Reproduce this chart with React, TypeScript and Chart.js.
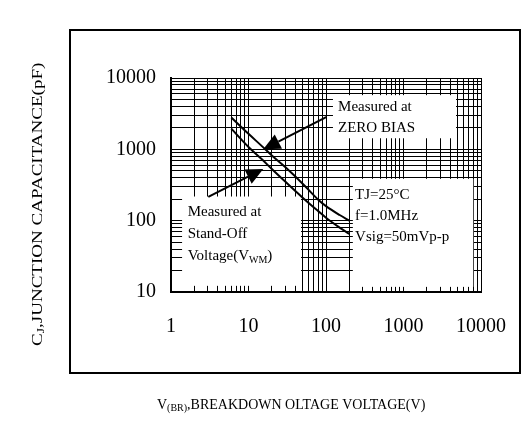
import React, { useEffect, useRef } from 'react';
import { Chart, registerables } from 'chart.js';

Chart.register(...registerables);

// ---- data ----
const voltageZeroBias = [6, 10, 15, 20, 30, 50, 80, 100, 150, 200];
const capZeroBias = [2800, 1650, 1100, 820, 560, 330, 195, 160, 120, 100];
const voltageStandOff = [6, 10, 15, 20, 30, 50, 80, 100, 150, 200];
const capStandOff = [1950, 1080, 720, 530, 350, 210, 135, 110, 80, 65];

const xDecades = [1, 10, 100, 1000];
const yDecades = [10, 100, 1000];
const multipliers = [1, 2, 3, 4, 5, 6, 7, 8, 9];
const xTickLabels = ['1', '10', '100', '1000', '10000'];
const yTickLabels = ['10', '100', '1000', '10000'];

const xTitle = [
  { t: 'V' },
  { t: '(BR)', sub: true },
  { t: ',BREAKDOWN OLTAGE VOLTAGE(V)' },
];
const yTitle = [
  { t: 'C' },
  { t: 'J', sub: true },
  { t: ',JUNCTION CAPACITANCE(pF)' },
];

const zeroBiasNote = [[{ t: 'Measured at' }], [{ t: 'ZERO BIAS' }]];
const conditionsNote = [[{ t: 'TJ=25°C' }], [{ t: 'f=1.0MHz' }], [{ t: 'Vsig=50mVp-p' }]];
const standOffNote = [
  [{ t: 'Measured at' }],
  [{ t: 'Stand-Off' }],
  [{ t: 'Voltage(V' }, { t: 'WM', sub: true }, { t: ')' }],
];

// boxes in data coordinates (x: V, y: pF)
const noteBoxes = [
  { x0: 123, x1: 4760, y0: 5750, y1: 1430, tx: 143, ty: 3460, lh: 21.5, lines: zeroBiasNote },
  { x0: 222, x1: 7950, y0: 386, y1: 11.8, tx: 237, ty: 201, lh: 21, lines: conditionsNote },
  { x0: 1.39, x1: 47.6, y0: 218, y1: 12.2, tx: 1.64, ty: 117, lh: 22, lines: standOffNote },
];

const arrows = [
  { fromX: 102, fromY: 2850, toX: 15.5, toY: 1000 },
  { fromX: 3.03, fromY: 216, toX: 15.5, toY: 530 },
];

const FONT = '"Liberation Serif", "Times New Roman", serif';

const buildTicks = (decades: number[], last: number) => {
  const out: number[] = [];
  decades.forEach((d) => multipliers.forEach((m) => out.push(d * m)));
  out.push(last);
  return out;
};
const xTickValues = buildTicks(xDecades, 10000);
const yTickValues = buildTicks(yDecades, 10000);

function drawRich(ctx: CanvasRenderingContext2D, segs: any[], x: number, y: number, size: number) {
  let cx = x;
  for (const s of segs) {
    const fs = s.sub ? Math.round(size * 0.68) : size;
    ctx.font = `${fs}px ${FONT}`;
    ctx.fillText(s.t, cx, y + (s.sub ? size * 0.22 : 0));
    cx += ctx.measureText(s.t).width;
  }
}

const notesPlugin = {
  id: 'notes',
  beforeDraw(chart: any) {
    const ctx: CanvasRenderingContext2D = chart.ctx;
    ctx.save();
    ctx.fillStyle = '#fff';
    ctx.fillRect(0, 0, chart.width, chart.height);
    // outer frame
    ctx.strokeStyle = '#000';
    ctx.lineWidth = 2;
    ctx.strokeRect(70, 30, 450, 343);
    // titles
    ctx.fillStyle = '#000';
    ctx.textBaseline = 'middle';
    ctx.textAlign = 'left';
    drawRich(ctx, xTitle, 157, 405, 14);
    ctx.translate(38, 346);
    ctx.rotate(-Math.PI / 2);
    ctx.scale(1.36, 1);
    drawRich(ctx, yTitle, 0, 0, 14);
    ctx.restore();
  },
  beforeDatasetsDraw(chart: any) {
    const ctx: CanvasRenderingContext2D = chart.ctx;
    const xs = chart.scales.x;
    const ys = chart.scales.y;
    ctx.save();
    ctx.fillStyle = '#fff';
    for (const b of noteBoxes) {
      const l = xs.getPixelForValue(b.x0);
      const r = xs.getPixelForValue(b.x1);
      const t = ys.getPixelForValue(b.y0);
      const bt = ys.getPixelForValue(b.y1);
      ctx.fillRect(l, t, r - l, bt - t);
    }
    ctx.restore();
  },
  afterDatasetsDraw(chart: any) {
    const ctx: CanvasRenderingContext2D = chart.ctx;
    const xs = chart.scales.x;
    const ys = chart.scales.y;
    ctx.save();
    ctx.fillStyle = '#000';
    ctx.textBaseline = 'alphabetic';
    ctx.textAlign = 'left';
    for (const b of noteBoxes) {
      const x = xs.getPixelForValue(b.tx);
      const y = ys.getPixelForValue(b.ty);
      b.lines.forEach((ln: any[], i: number) => drawRich(ctx, ln, x, y + i * b.lh, 15));
    }
    ctx.strokeStyle = '#000';
    ctx.lineWidth = 2;
    for (const a of arrows) {
      const x1 = xs.getPixelForValue(a.fromX);
      const y1 = ys.getPixelForValue(a.fromY);
      const x2 = xs.getPixelForValue(a.toX);
      const y2 = ys.getPixelForValue(a.toY);
      const ang = Math.atan2(y2 - y1, x2 - x1);
      const len = 17;
      const hw = 8;
      const bx = x2 - len * Math.cos(ang);
      const by = y2 - len * Math.sin(ang);
      ctx.beginPath();
      ctx.moveTo(x1, y1);
      ctx.lineTo(bx, by);
      ctx.stroke();
      ctx.beginPath();
      ctx.moveTo(x2, y2);
      ctx.lineTo(bx + hw * Math.sin(ang), by - hw * Math.cos(ang));
      ctx.lineTo(bx - hw * Math.sin(ang), by + hw * Math.cos(ang));
      ctx.closePath();
      ctx.fill();
    }
    ctx.restore();
  },
};

const isDecade = (v: number) => Math.abs(Math.log10(v) - Math.round(Math.log10(v))) < 1e-9;

export default function App() {
  const ref = useRef<HTMLCanvasElement | null>(null);
  useEffect(() => {
    if (!ref.current) return;
    const common = (labels: string[]) => ({
      grid: { color: '#000', lineWidth: 1, drawTicks: false },
      border: { color: '#000', width: 2 },
      ticks: {
        autoSkip: false,
        maxRotation: 0,
        color: '#000',
        font: { family: FONT, size: 20 },
        callback: (v: any) => {
          const n = Number(v);
          if (!isDecade(n)) return '';
          const s = String(Math.round(n));
          return labels.includes(s) ? s : '';
        },
      },
    });
    const xc: any = common(xTickLabels);
    xc.ticks.padding = 23;
    const yc: any = common(yTickLabels);
    yc.ticks.padding = 15;
    const chart = new Chart(ref.current, {
      type: 'line',
      data: {
        datasets: [
          {
            data: voltageZeroBias.map((v, i) => ({ x: v, y: capZeroBias[i] })),
            borderColor: '#000',
            borderWidth: 2,
            pointRadius: 0,
            cubicInterpolationMode: 'monotone',
            fill: false,
          },
          {
            data: voltageStandOff.map((v, i) => ({ x: v, y: capStandOff[i] })),
            borderColor: '#000',
            borderWidth: 2,
            pointRadius: 0,
            cubicInterpolationMode: 'monotone',
            fill: false,
          },
        ],
      },
      options: {
        responsive: false,
        maintainAspectRatio: false,
        animation: false,
        layout: { padding: { left: 0, top: 78, right: 48, bottom: 105 } },
        plugins: { legend: { display: false }, tooltip: { enabled: false }, title: { display: false } },
        scales: {
          x: {
            type: 'logarithmic',
            position: 'bottom',
            min: 1,
            max: 10000,
            afterBuildTicks: (s: any) => {
              s.ticks = xTickValues.map((v) => ({ value: v, major: isDecade(v) }));
            },
            afterFit: (s: any) => {
              s.height = 40;
              s.paddingLeft = 0;
              s.paddingRight = 0;
            },
            ...xc,
          },
          y: {
            type: 'logarithmic',
            position: 'left',
            min: 10,
            max: 10000,
            afterBuildTicks: (s: any) => {
              s.ticks = yTickValues.map((v) => ({ value: v, major: isDecade(v) }));
            },
            afterFit: (s: any) => {
              s.width = 171;
              s.paddingTop = 0;
              s.paddingBottom = 0;
            },
            ...yc,
          },
        },
      } as any,
      plugins: [notesPlugin],
    });
    return () => chart.destroy();
  }, []);
  return (
    <div style={{ position: 'fixed', left: 0, top: 0, width: 529, height: 437, background: '#fff' }}>
      <canvas ref={ref} width={529} height={437} style={{ display: 'block' }} />
    </div>
  );
}
